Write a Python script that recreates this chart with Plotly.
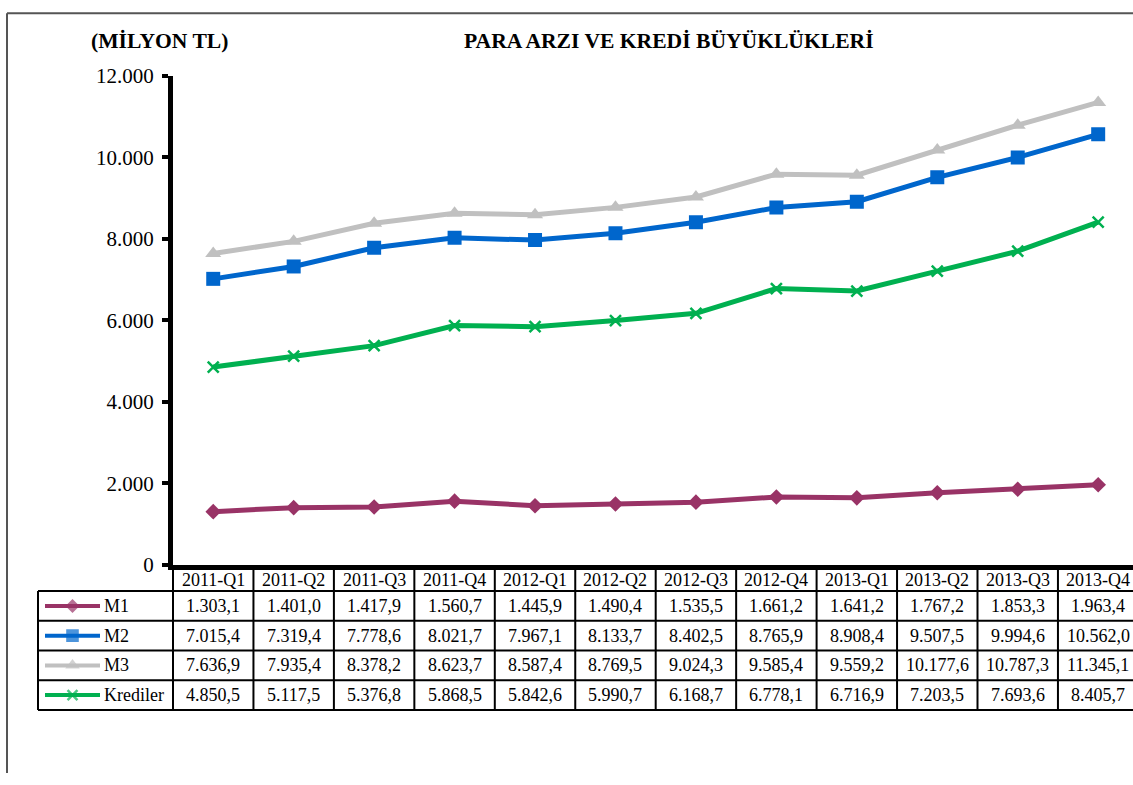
import plotly.graph_objects as go

# ---------------- data ----------------
categories = ["2011-Q1", "2011-Q2", "2011-Q3", "2011-Q4",
              "2012-Q1", "2012-Q2", "2012-Q3", "2012-Q4",
              "2013-Q1", "2013-Q2", "2013-Q3", "2013-Q4"]
m1 = [1303.1, 1401.0, 1417.9, 1560.7, 1445.9, 1490.4, 1535.5, 1661.2, 1641.2, 1767.2, 1853.3, 1963.4]
m2 = [7015.4, 7319.4, 7778.6, 8021.7, 7967.1, 8133.7, 8402.5, 8765.9, 8908.4, 9507.5, 9994.6, 10562.0]
m3 = [7636.9, 7935.4, 8378.2, 8623.7, 8587.4, 8769.5, 9024.3, 9585.4, 9559.2, 10177.6, 10787.3, 11345.1]
krediler = [4850.5, 5117.5, 5376.8, 5868.5, 5842.6, 5990.7, 6168.7, 6778.1, 6716.9, 7203.5, 7693.6, 8405.7]
series_names = ["M1", "M2", "M3", "Krediler"]
y_ticks = [0, 2000, 4000, 6000, 8000, 10000, 12000]
unit_label = "(MİLYON TL)"
title_text = "PARA ARZI VE KREDİ BÜYÜKLÜKLERİ"

# ---------------- styles ----------------
W, H = 1133, 785
# vertical placement of the figure in the photographed page (measured)
TOP_OFF, V_SCALE = 11.14, 0.9714
PH = H * V_SCALE
FONT = "Liberation Serif, Times New Roman, serif"
styles = [
    dict(color="#993366", symbol="diamond", size=12, lw=0),
    dict(color="#0066CC", symbol="square", size=14, lw=0),
    dict(color="#C0C0C0", symbol="triangle-up", size=14, lw=0),
    dict(color="#00B050", symbol="x-thin", size=11, lw=2.5),
]
series_values = [m1, m2, m3, krediler]


def px_x(x):
    return x / W


def px_y(y):
    return 1 - (y - TOP_OFF) / PH


def fmt(v):
    s = f"{v:,.1f}"
    return s.replace(",", "X").replace(".", ",").replace("X", ".")


fig = go.Figure()

# main lines
for name, vals, st in zip(series_names, series_values, styles):
    fig.add_trace(go.Scatter(
        x=categories, y=vals, name=name, mode="lines+markers",
        line=dict(color=st["color"], width=5),
        marker=dict(symbol=st["symbol"], size=st["size"], color=st["color"],
                    line=dict(color=st["color"], width=st["lw"])),
        xaxis="x", yaxis="y", showlegend=False,
    ))

# table geometry (in table-axis units: one column = 1, one row = 1)
col_unit_px = 80.45
row_px = 29.8 * V_SCALE
legend_left = -0.5 - (173 - 38) / col_unit_px
header_h = 0.75
n_cols = len(categories)

# legend keys inside the table
key_x0 = legend_left + 7 / col_unit_px
key_x1 = legend_left + 62 / col_unit_px
key_mid = (key_x0 + key_x1) / 2
for r, (name, st) in enumerate(zip(series_names, styles)):
    yc = header_h + 0.5 + r
    fig.add_trace(go.Scatter(
        x=[key_x0, key_mid, key_x1], y=[yc, yc, yc], mode="lines+markers",
        line=dict(color=st["color"], width=4),
        marker=dict(symbol=st["symbol"], size=[0, st["size"] * 0.9, 0], color=st["color"],
                    line=dict(color=st["color"], width=st["lw"])),
        xaxis="x2", yaxis="y2", showlegend=False, hoverinfo="skip",
    ))

shapes = []
line_style = dict(color="black", width=2)
# vertical table lines
for k in range(n_cols + 1):
    shapes.append(dict(type="line", xref="x2", yref="y2", x0=-0.5 + k, x1=-0.5 + k,
                       y0=0, y1=header_h + len(series_names), line=line_style))
shapes.append(dict(type="line", xref="x2", yref="y2", x0=legend_left, x1=legend_left,
                   y0=header_h, y1=header_h + len(series_names), line=line_style))
# horizontal table lines
for r in range(len(series_names) + 1):
    shapes.append(dict(type="line", xref="x2", yref="y2", x0=legend_left, x1=n_cols - 0.5,
                       y0=header_h + r, y1=header_h + r, line=line_style))

# outer frame
frame = dict(color="#555555", width=2)
frame_top = 1 - 1.2 / PH
shapes.append(dict(type="line", xref="paper", yref="paper", x0=px_x(7), x1=px_x(7),
                   y0=0, y1=frame_top, line=frame))
shapes.append(dict(type="line", xref="paper", yref="paper", x0=px_x(7), x1=1,
                   y0=frame_top, y1=frame_top, line=frame))

annotations = []
cell_font = dict(family=FONT, size=18, color="black")
for i, c in enumerate(categories):
    annotations.append(dict(x=i, y=header_h / 2, xref="x2", yref="y2", text=c,
                            showarrow=False, font=cell_font, xanchor="center", yanchor="middle"))
for r, (name, vals) in enumerate(zip(series_names, series_values)):
    yc = header_h + 0.5 + r
    annotations.append(dict(x=key_x1 + 2 / col_unit_px, y=yc, xref="x2", yref="y2", text=name,
                            showarrow=False, font=cell_font, xanchor="left", yanchor="middle"))
    for i, v in enumerate(vals):
        annotations.append(dict(x=i, y=yc, xref="x2", yref="y2", text=fmt(v),
                                showarrow=False, font=cell_font, xanchor="center", yanchor="middle"))

title_font = dict(family=FONT, size=21.6, color="black")
annotations.append(dict(x=px_x(159), y=px_y(40), xref="paper", yref="paper",
                        text=f"<b>{unit_label}</b>", showarrow=False, font=title_font,
                        xanchor="center", yanchor="middle"))
annotations.append(dict(x=px_x(668.5), y=px_y(40), xref="paper", yref="paper",
                        text=f"<b>{title_text}</b>", showarrow=False, font=title_font,
                        xanchor="center", yanchor="middle"))

x_right = -0.5 + (W - 173) / col_unit_px
fig.update_layout(
    width=W, height=H,
    margin=dict(l=0, r=0, t=0, b=0),
    paper_bgcolor="white", plot_bgcolor="rgba(0,0,0,0)",
    showlegend=False, separators=",.",
    font=dict(family=FONT, color="black"),
    xaxis=dict(type="category", domain=[px_x(173), 1], range=[-0.5, x_right],
               showline=True, linewidth=5, linecolor="black", ticks="",
               showticklabels=False, showgrid=False, zeroline=False, anchor="y"),
    yaxis=dict(domain=[px_y(565), px_y(75)], range=[0, 12000], tickvals=y_ticks,
               tickformat=",.0f", ticks="outside", ticklen=6, tickwidth=4, tickcolor="black",
               showline=True, linewidth=5, linecolor="black", showgrid=False, zeroline=False,
               tickfont=dict(family=FONT, size=21, color="black"), ticklabelstandoff=4,
               anchor="x"),
    xaxis2=dict(domain=[px_x(30), 1], range=[-0.5 - (173 - 30) / col_unit_px, x_right],
                visible=False, anchor="y2"),
    yaxis2=dict(domain=[px_y(716), px_y(565)],
                range=[(716 - 569) / 29.8, -(569 - 565) / 29.8],
                visible=False, anchor="x2"),
    shapes=shapes, annotations=annotations,
)

fig.write_html("out.html", config={"displayModeBar": False},
               post_script="document.body.style.margin='0';")
